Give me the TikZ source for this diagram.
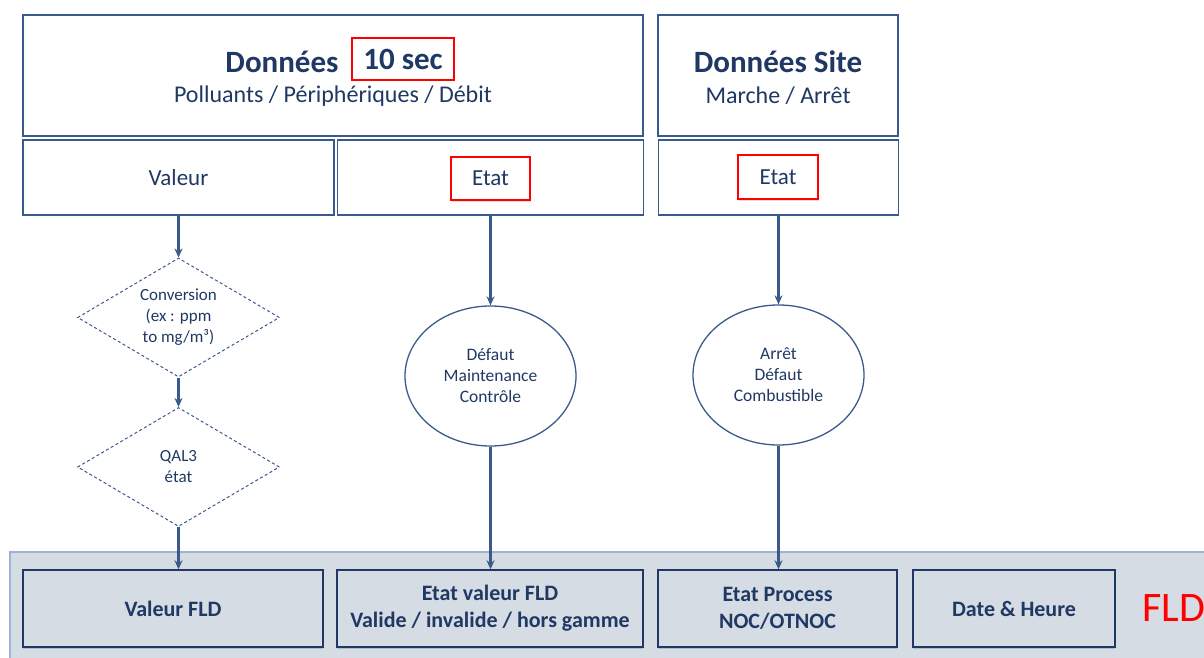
\documentclass[tikz,border=0pt]{standalone}
\usepackage{fontspec}
\setmainfont{Carlito}
\usepackage{xcolor}
\usetikzlibrary{positioning}
\usetikzlibrary{shapes.geometric}
\usetikzlibrary{shadows}
\usetikzlibrary{arrows.meta}

\definecolor{navy}{HTML}{1F3864}
\definecolor{boxblue}{HTML}{3A5A8C}
\definecolor{bandgray}{HTML}{D6DCE4}
\definecolor{bandline}{HTML}{9CB4D4}

\begin{document}
\begin{tikzpicture}[x=1pt, y=-1pt, text=navy,
        box/.style={draw=boxblue, line width=1.3pt, fill=white, inner sep=0pt},
        redbox/.style={draw=red, line width=1.3pt, fill=white, inner sep=0pt,
            drop shadow={shadow xshift=1pt, shadow yshift=-1.5pt, opacity=0.25}},
        fldbox/.style={draw=navy, line width=1.4pt, fill=bandgray, inner sep=0pt,
            minimum height=77pt, align=center, font=\fontsize{22}{27}\selectfont\bfseries,
            drop shadow={shadow xshift=0pt, shadow yshift=-2pt, opacity=0.35}},
        losange/.style={diamond, draw=boxblue, line width=1pt, dash pattern=on 3pt off 2.5pt,
            minimum width=202pt, minimum height=119pt, aspect=1.7, inner sep=0pt, align=center,
            font=\fontsize{17}{21}\selectfont},
        bulle/.style={ellipse, draw=boxblue, line width=1.3pt, minimum width=171pt,
            minimum height=140pt, inner sep=0pt, align=center, font=\fontsize{17.5}{21}\selectfont},
        flow/.style={-{Stealth[length=9pt, width=8pt]}, draw=boxblue, line width=2.4pt}]
    \useasboundingbox (0,0) rectangle (1204,658);

    % upper blocks
    \node [box, minimum width=620pt, minimum height=121pt] (donnees) at (333,75.5) {};
    \node [box, minimum width=240pt, minimum height=121pt] (site) at (778,75.5) {};
    \node [font=\fontsize{31}{34}\selectfont\bfseries] (titre) at (282,62) {Données};
    \node [redbox, minimum width=102pt, minimum height=42pt,
        font=\fontsize{31}{34}\selectfont\bfseries] (dix) at (403,59) {10 sec};
    \node [font=\fontsize{24}{28}\selectfont] (polluants) at (333,96) {Polluants / Périphériques / Débit};
    \node [font=\fontsize{31}{34}\selectfont\bfseries] (titresite) at (778,62) {Données Site};
    \node [font=\fontsize{24}{28}\selectfont] (marche) at (778,96) {Marche / Arrêt};

    \node [box, minimum width=311pt, minimum height=75pt, font=\fontsize{23}{26}\selectfont]
        (valeur) at (178.5,177.5) {Valeur};
    \node [box, minimum width=306pt, minimum height=75pt] (etat) at (490.5,177.5) {};
    \node [box, minimum width=240pt, minimum height=75pt] (siteetat) at (778.5,177.5) {};
    \node [redbox, minimum width=79pt, minimum height=43pt, font=\fontsize{23}{26}\selectfont]
        (etatrouge) at (490.5,178.5) {Etat};
    \node [redbox, minimum width=80pt, minimum height=44pt, font=\fontsize{23}{26}\selectfont]
        (siterouge) at (778,177) {Etat};

    % middle shapes
    \node [losange] (conv) at (178.5,317.5) {Conversion\\(ex : ppm\\to mg/m³)};
    \node [losange] (qal) at (178.5,467) {QAL3\\état};
    \node [bulle] (defaut) at (490.5,376) {Défaut\\Maintenance\\Contrôle};
    \node [bulle] (arret) at (778.5,375) {Arrêt\\Défaut\\Combustible};

    % FLD band
    \fill [bandgray] (10,552) rectangle (1215,670);
    \draw [bandline, line width=1.5pt] (10,670) -- (10,552) -- (1215,552);
    \node [fldbox, minimum width=300pt] (valfld) at (173,608.5) {Valeur FLD};
    \node [fldbox, minimum width=306pt] (etatfld) at (490,608.5) {Etat valeur FLD\\Valide / invalide / hors gamme};
    \node [fldbox, minimum width=239pt] (process) at (777.5,608.5) {Etat Process\\NOC/OTNOC};
    \node [fldbox, minimum width=202pt] (date) at (1014,608.5) {Date \& Heure};
    \node [anchor=west, text=red, font=\fontsize{42}{44}\selectfont] (fld) at (1139,608) {FLD};

    % connectors
    \draw [flow] (valeur) -- (conv);
    \draw [flow] (conv) -- (qal);
    \draw [flow] (qal.south) -- (qal.south |- valfld.north);
    \draw [flow] (etat) -- (defaut);
    \draw [flow] (defaut.south) -- (defaut.south |- etatfld.north);
    \draw [flow] (siteetat) -- (arret);
    \draw [flow] (arret) -- (process.north -| arret.south);
\end{tikzpicture}
\end{document}
